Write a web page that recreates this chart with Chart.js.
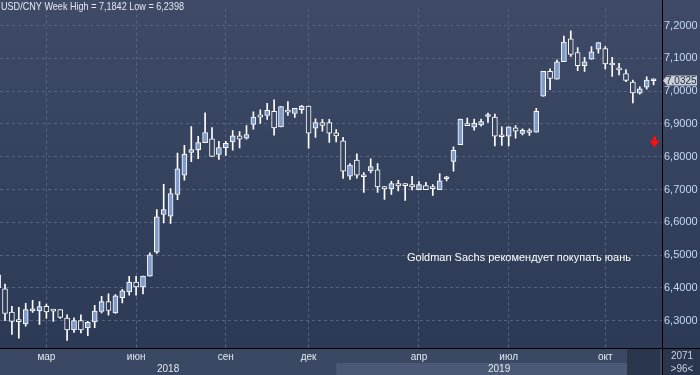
<!DOCTYPE html>
<html><head><meta charset="utf-8">
<script src="https://cdn.jsdelivr.net/npm/chart.js@4.4.1/dist/chart.umd.min.js"></script>
<style>html,body{margin:0;padding:0;background:#2c3a56;overflow:hidden}#wrap{width:700px;height:375px}</style>
</head><body><div id="wrap"><canvas id="c" width="700" height="375"></canvas></div>
<script>
// ---- data (weekly USD/CNY candles, index 0..95) ----
const openVals  = [6.440,6.397,6.326,6.300,6.290,6.330,6.330,6.344,6.330,6.334,6.308,6.272,6.300,6.278,6.296,6.328,6.358,6.324,6.370,6.388,6.418,6.403,6.436,6.509,6.624,6.619,6.685,6.744,6.813,6.822,6.843,6.855,6.807,6.828,6.845,6.864,6.857,6.899,6.928,6.926,6.939,6.891,6.939,6.932,6.944,6.955,6.887,6.904,6.904,6.873,6.849,6.741,6.790,6.740,6.757,6.760,6.709,6.702,6.718,6.714,6.715,6.700,6.712,6.704,6.700,6.733,6.786,6.837,6.896,6.890,6.897,6.923,6.921,6.864,6.863,6.888,6.871,6.875,6.875,6.985,7.061,7.037,7.090,7.160,7.118,7.078,7.098,7.128,7.130,7.081,7.066,7.054,7.028,6.994,7.012,7.032];
const highVals  = [6.460,6.412,6.344,6.341,6.353,6.362,6.358,6.351,6.333,6.334,6.318,6.309,6.318,6.298,6.347,6.374,6.382,6.380,6.396,6.435,6.435,6.436,6.507,6.639,6.716,6.703,6.811,6.835,6.892,6.862,6.934,6.889,6.847,6.847,6.880,6.877,6.895,6.937,6.943,6.963,6.974,6.953,6.968,6.948,6.957,6.955,6.916,6.914,6.914,6.883,6.859,6.779,6.809,6.752,6.794,6.779,6.709,6.725,6.728,6.718,6.740,6.724,6.722,6.715,6.749,6.740,6.830,6.915,6.918,6.915,6.915,6.933,6.930,6.891,6.891,6.895,6.885,6.885,6.948,7.061,7.068,7.096,7.168,7.1842,7.133,7.103,7.136,7.148,7.136,7.103,7.085,7.066,7.034,7.013,7.044,7.038];
const lowVals   = [6.395,6.300,6.258,6.247,6.283,6.325,6.289,6.307,6.298,6.307,6.2398,6.264,6.263,6.254,6.279,6.324,6.317,6.322,6.354,6.378,6.378,6.382,6.436,6.505,6.598,6.597,6.669,6.729,6.785,6.794,6.843,6.801,6.792,6.804,6.820,6.827,6.854,6.884,6.902,6.914,6.866,6.891,6.926,6.920,6.932,6.826,6.859,6.878,6.844,6.845,6.734,6.731,6.735,6.691,6.751,6.691,6.670,6.685,6.696,6.667,6.699,6.700,6.700,6.682,6.700,6.726,6.756,6.837,6.895,6.881,6.893,6.905,6.833,6.835,6.833,6.857,6.867,6.865,6.875,6.985,7.005,7.037,7.090,7.106,7.063,7.060,7.098,7.116,7.068,7.045,7.050,7.029,6.964,6.991,7.006,7.019];
const closeVals = [6.400,6.322,6.298,6.297,6.334,6.332,6.343,6.327,6.329,6.310,6.272,6.300,6.272,6.295,6.329,6.358,6.331,6.376,6.391,6.418,6.403,6.436,6.501,6.617,6.639,6.688,6.763,6.808,6.822,6.843,6.874,6.801,6.828,6.841,6.864,6.854,6.868,6.921,6.921,6.942,6.888,6.953,6.936,6.948,6.955,6.872,6.904,6.896,6.872,6.864,6.756,6.775,6.744,6.739,6.770,6.708,6.702,6.718,6.711,6.712,6.708,6.715,6.700,6.703,6.727,6.734,6.820,6.915,6.895,6.903,6.907,6.924,6.863,6.861,6.891,6.878,6.881,6.874,6.939,7.061,7.039,7.090,7.150,7.112,7.078,7.090,7.120,7.148,7.083,7.080,7.065,7.033,6.995,7.007,7.034,7.0325];
const monthLabels = ['мар','июн','сен','дек','апр','июл','окт'];
const monthWeek   = [7, 20, 33, 45, 61, 74, 88];
const yearLabels  = ['2018','2019'];
const yearWeek    = [0, 49];
const yTicks      = [6.3,6.4,6.5,6.6,6.7,6.8,6.9,7.0,7.1,7.2];
const titleText   = 'USD/CNY Week High = 7,1842 Low = 6,2398';
const noteText    = 'Goldman Sachs рекомендует покупать юань';
const lastPrice   = 7.0325;
const arrowPrice  = 6.862;

// ---- chart ----
const N = openVals.length;
const idx = openVals.map((_, i) => i);
const bodyData  = idx.map(i => ({x: i, y: [openVals[i], closeVals[i]]}));
const upperData = idx.map(i => ({x: i, y: [Math.max(openVals[i], closeVals[i]), highVals[i]]}));
const lowerData = idx.map(i => ({x: i, y: [lowVals[i], Math.min(openVals[i], closeVals[i])]}));

const BG_TOP = '#3e4a66', BG_BOT = '#2c3a56';
function bgGrad(chart) {
  const b = (chart.chartArea && chart.chartArea.bottom) || 348;
  const g = chart.ctx.createLinearGradient(0, 0, 0, b);
  g.addColorStop(0, BG_TOP); g.addColorStop(1, BG_BOT);
  return g;
}
const UP = '#7f9bcb';
const GRID = '#57647f';
const FONT = '"Liberation Sans", Arial, sans-serif';
const fmt = v => v.toFixed(4).replace('.', ',');

const decor = {
  id: 'decor',
  beforeDraw(chart) {
    const c = chart.ctx, a = chart.chartArea, W = chart.width, H = chart.height;
    const xs = chart.scales.x;
    c.save();
    c.fillStyle = bgGrad(chart);
    c.fillRect(0, 0, W, a.bottom);
    c.fillStyle = '#3b4864';
    c.fillRect(0, a.bottom, W, H - a.bottom);
    const y2019 = xs.getPixelForValue(yearWeek[1]);
    c.fillStyle = '#4b5976';
    c.fillRect(y2019, a.bottom + 15, a.right - 35 - y2019, H - a.bottom - 15);
    c.fillStyle = '#2a354e';
    c.fillRect(a.right - 35, a.bottom + 1, 33, H - a.bottom - 1);
    c.fillRect(a.right, a.bottom, W - a.right, H - a.bottom);
    c.font = '10px ' + FONT;
    c.fillStyle = '#e2e8f0';
    c.textAlign = 'center'; c.textBaseline = 'middle';
    const starts = yearWeek.map(w => Math.max(a.left, xs.getPixelForValue(w)));
    yearLabels.forEach((t, i) => {
      const s = i === 0 ? a.left : starts[i];
      const e = i + 1 < starts.length ? starts[i + 1] : a.right;
      c.fillText(t, (s + e) / 2, a.bottom + 21);
    });
    c.fillStyle = '#c9d1de';
    c.fillText('2071', (a.right + W) / 2 + 1, a.bottom + 8);
    c.fillText('>96<', (a.right + W) / 2 + 1, a.bottom + 21);
    c.restore();
  },
  afterDraw(chart) {
    const c = chart.ctx, a = chart.chartArea, W = chart.width, H = chart.height;
    const xs = chart.scales.x, ys = chart.scales.y;
    c.save();
    c.strokeStyle = '#000'; c.lineWidth = 1;
    c.beginPath();
    c.moveTo(0, a.bottom + 0.5); c.lineTo(W, a.bottom + 0.5);
    c.moveTo(a.right + 0.5, 0); c.lineTo(a.right + 0.5, H);
    c.stroke();
    c.font = '11px ' + FONT;
    c.fillStyle = '#e4eaf3';
    c.textAlign = 'left'; c.textBaseline = 'middle';
    c.fillText(titleText, 1, 7, 183);
    c.fillStyle = '#ffffff';
    c.fillText(noteText, 407, 258, 224);
    // red arrow
    const ax = Math.round(xs.getPixelForValue(N - 1)) + 0.5;
    const ay = ys.getPixelForValue(arrowPrice);
    c.fillStyle = '#ff1010';
    c.fillRect(ax - 1.5, ay, 3, 6);
    c.beginPath();
    c.moveTo(ax - 5, ay + 4); c.lineTo(ax + 5, ay + 4); c.lineTo(ax, ay + 11); c.closePath();
    c.fill();
    // price tag
    const py = ys.getPixelForValue(lastPrice);
    c.fillStyle = '#c9cdd6';
    c.beginPath();
    c.moveTo(a.right + 1, py);
    c.lineTo(a.right + 5, py - 5);
    c.lineTo(W - 3, py - 5);
    c.lineTo(W - 3, py + 5);
    c.lineTo(a.right + 5, py + 5);
    c.closePath(); c.fill();
    c.fillStyle = '#1f2b45';
    c.font = '10px ' + FONT;
    c.fillText(fmt(lastPrice), a.right + 4, py + 0.5);
    c.restore();
  }
};

new Chart(document.getElementById('c'), {
  type: 'bar',
  data: {
    datasets: [
      { label: 'body', data: bodyData, grouped: false, barThickness: 5, minBarLength: 2,
        borderWidth: 1, borderColor: '#ffffff', borderSkipped: false,
        backgroundColor: ctx => (closeVals[ctx.dataIndex] >= openVals[ctx.dataIndex] ? UP : bgGrad(ctx.chart)) },
      { label: 'upper', data: upperData, grouped: false, barThickness: 1, borderWidth: 0, backgroundColor: '#ffffff' },
      { label: 'lower', data: lowerData, grouped: false, barThickness: 1, borderWidth: 0, backgroundColor: '#ffffff' }
    ]
  },
  options: {
    responsive: false, animation: false, devicePixelRatio: 1,
    layout: { padding: 0 },
    plugins: { legend: { display: false }, tooltip: { enabled: false }, title: { display: false } },
    scales: {
      x: {
        type: 'linear', offset: false, min: 0.275, max: 96.22,
        grid: { color: GRID, drawTicks: false, offset: false, lineWidth: 1 },
        border: { display: false, dash: [3, 3] },
        afterBuildTicks: ax => { ax.ticks = monthWeek.map(v => ({ value: v })); },
        afterFit: s => { s.height = 27; },
        ticks: { autoSkip: false, maxRotation: 0, padding: 3, color: '#e2e8f0',
          font: { family: FONT, size: 10 },
          callback: v => monthLabels[monthWeek.indexOf(v)] }
      },
      y: {
        type: 'linear', position: 'right', min: 6.2167, max: 7.252,
        grid: { color: GRID, drawTicks: false, lineWidth: 1 },
        border: { display: false, dash: [3, 3] },
        afterBuildTicks: ax => { ax.ticks = yTicks.map(v => ({ value: v })); },
        afterFit: s => { s.width = 38; },
        ticks: { padding: 2, color: '#c4daf2',
          font: { family: FONT, size: 11 },
          callback: v => fmt(v) }
      }
    }
  },
  plugins: [decor]
});
</script></body></html>
